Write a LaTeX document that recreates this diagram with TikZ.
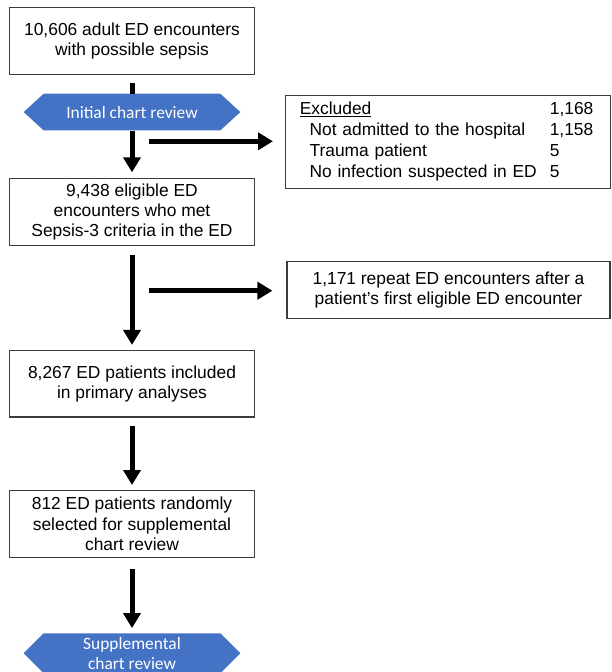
\documentclass[tikz,border=0pt]{standalone}
\usepackage{fontspec}
\setmainfont{Liberation Sans}
\newfontfamily\calibri{Carlito}
\usepackage{tikz}
\usetikzlibrary{arrows.meta,positioning,shapes.symbols}
\usepackage{xcolor}
\definecolor{reviewblue}{HTML}{4472C4}
\definecolor{boxline}{HTML}{3C3C3C}

\begin{document}
\begin{tikzpicture}[x=1pt, y=1pt, >={Triangle[width=17pt,length=15pt]},
  flowbox/.style={draw=boxline, line width=1.1pt, align=center, minimum width=244.7pt, minimum height=66.5pt, inner sep=4pt, font=\fontsize{17.4}{20.2}\selectfont},
  review/.style={signal, signal to=east and west, fill=reviewblue, text=white, align=center, minimum width=216.7pt, inner sep=2pt, font=\calibri\fontsize{17.4}{20.5}\selectfont},
  sidebox/.style={draw=boxline, line width=1.1pt, font=\fontsize{17.4}{20.8}\selectfont},
  flow/.style={->, line width=5pt}]
\useasboundingbox (0,0) rectangle (611,-672);
\node[flowbox] (all) at (132,-41) {10,606 adult ED encounters\\with possible sepsis};
\node[review, minimum height=36.7pt, signal pointer angle=85, below=18.7pt of all] (initrev) {Initial chart review};
\node[flowbox, below=47.7pt of initrev] (elig) {9,438 eligible ED\\encounters who met\\Sepsis-3 criteria in the ED};
\node[flowbox, below=104pt of elig] (incl) {8,267 ED patients included\\in primary analyses};
\node[flowbox, below=72.5pt of incl] (rand) {812 ED patients randomly\\selected for supplemental\\chart review};
\node[review, minimum height=40pt, signal pointer angle=90, below=75.5pt of rand] (supprev) {Supplemental\\chart review};
\node[sidebox, anchor=north west, text width=296.4pt, inner xsep=14.3pt, minimum height=92.7pt] (excl) at (285,-95) {%
  \begin{tabular}{@{}p{250pt}@{}l@{}}
  \underline{Excluded} & 1,168\\
  \hspace*{9.7pt}Not admitted to the hospital & 1,158\\
  \hspace*{9.7pt}Trauma patient & 5\\
  \hspace*{9.7pt}No infection suspected in ED & 5
  \end{tabular}};
\node[sidebox, align=center, minimum width=323pt, minimum height=56.3pt] (repeats) at (448.5,-290) {1,171 repeat ED encounters after a\\patient’s first eligible ED encounter};
\coordinate (exA) at (149.3,-141.3);
\coordinate (exB) at (149.3,-290.7);
% main flow
\draw[line width=5pt, shorten <=8pt] (all.south) -- (initrev.north);
\draw[flow, shorten >=6pt] (initrev.south) -- (elig.north);
\draw[flow, shorten <=9pt, shorten >=5pt] (elig.south) -- (incl.north);
\draw[flow, shorten <=8pt, shorten >=5pt] (incl.south) -- (rand.north);
\draw[flow, shorten <=11pt, shorten >=5pt] (rand.south) -- (supprev.north);
% side exits
\draw[flow, shorten >=12pt] (exA) -- (exA -| excl.west);
\draw[flow, shorten >=14pt] (exB) -- (exB -| repeats.west);
\end{tikzpicture}
\end{document}
